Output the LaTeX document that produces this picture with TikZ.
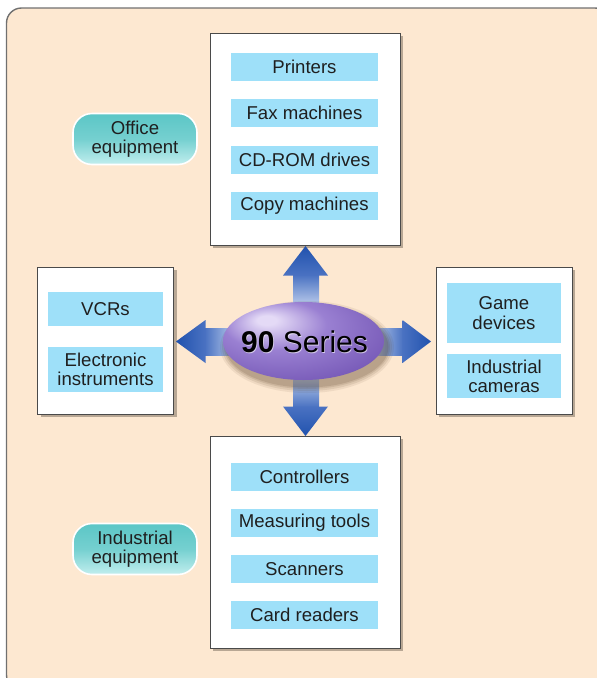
\documentclass[tikz,border=0pt]{standalone}
\usepackage{fontspec}
\setmainfont{Liberation Sans}
\usetikzlibrary{shadows,shapes.geometric}
\definecolor{bgpeach}{HTML}{FDE8D1}
\definecolor{bgedge}{HTML}{707070}
\definecolor{boxedge}{HTML}{4A4A4A}
\definecolor{shadowc}{HTML}{B8A794}
\definecolor{itemblue}{HTML}{9EE0F9}
\definecolor{tealtop}{HTML}{5CC6C6}
\definecolor{tealbot}{HTML}{C2EEEE}
\definecolor{arrdark}{HTML}{2152AE}
\definecolor{arrmid}{HTML}{4A72C2}
\definecolor{arrlight}{HTML}{CDDAF2}
\definecolor{purpD}{HTML}{7052B2}
\definecolor{purpM}{HTML}{9A80D2}
\definecolor{purpL}{HTML}{E4DAF6}
\pgfdeclareradialshading{purpleball}{\pgfpoint{-12bp}{14bp}}{%
  color(0bp)=(purpL); color(3bp)=(purpL); color(16bp)=(purpM); color(38bp)=(purpD); color(60bp)=(purpD)}
\tikzset{
  txt/.style={font=\fontsize{18.6}{19.2}\selectfont, align=center, text=black!88},
  bigbox/.style={draw=boxedge, fill=white, line width=0.9pt, inner sep=0pt,
    drop shadow={shadow xshift=3pt, shadow yshift=-3pt, fill=shadowc, opacity=1}},
  item/.style={txt, fill=itemblue, inner sep=0pt},
  pill/.style={txt, draw=white, line width=1.6pt, rounded corners=19pt, inner sep=0pt,
    top color=tealtop, bottom color=tealbot, middle color=tealtop!75!tealbot,
    minimum width=124pt, minimum height=51pt},
  arrhead/.style={top color=arrdark, bottom color=arrmid},
}
\begin{document}
\begin{tikzpicture}[x=1pt,y=-1pt]
\useasboundingbox (0,0) rectangle (597,678);
\begin{scope}
\clip (0,0) rectangle (597,678);
\draw[fill=bgpeach, draw=bgedge, line width=1.4pt, rounded corners=15pt] (6.5,8) rectangle (610,690);
\end{scope}

% big boxes
\node[bigbox, minimum width=190pt, minimum height=212pt] (top) at (305,139) {};
\node[bigbox, minimum width=190pt, minimum height=212pt] (bot) at (305,542) {};
\node[bigbox, minimum width=136pt, minimum height=147pt] (left) at (105.5,340.5) {};
\node[bigbox, minimum width=136pt, minimum height=147pt] (right) at (504,340.5) {};

% items top
\node[item, minimum width=147pt, minimum height=28pt] (printers) at (304.5,67) {Printers};
\node[item, minimum width=147pt, minimum height=28pt] (fax) at (304.5,113) {Fax machines};
\node[item, minimum width=147pt, minimum height=28pt] (cdrom) at (304.5,160) {CD-ROM drives};
\node[item, minimum width=147pt, minimum height=28pt] (copy) at (304.5,205.5) {Copy machines};
% items bottom
\node[item, minimum width=147pt, minimum height=28pt] (ctrl) at (304.5,476.5) {Controllers};
\node[item, minimum width=147pt, minimum height=28pt] (meas) at (304.5,522.5) {Measuring tools};
\node[item, minimum width=147pt, minimum height=28pt] (scan) at (304.5,569) {Scanners};
\node[item, minimum width=147pt, minimum height=28pt] (card) at (304.5,615) {Card readers};
% items left
\node[item, minimum width=115pt, minimum height=34pt] (vcr) at (105.5,309) {VCRs};
\node[item, minimum width=115pt, minimum height=45pt] (elec) at (105.5,369.5) {Electronic\\instruments};
% items right
\node[item, minimum width=114pt, minimum height=60pt] (game) at (504,313) {Game\\devices};
\node[item, minimum width=114pt, minimum height=44pt] (cam) at (504,376) {Industrial\\cameras};

% pills
\node[pill] (office) at (135,139) {Office\\equipment};
\node[pill] (indeq) at (135,549) {Industrial\\equipment};

% arrows
% up
\shade[top color=arrmid, bottom color=arrlight] (293,275) rectangle (319,310);
\shade[arrhead] (283,275.5) -- (328,275.5) -- (305.5,246) -- cycle;
% down
\shade[top color=arrlight, bottom color=arrmid] (293,372) rectangle (319,407);
\shade[top color=arrmid, bottom color=arrdark] (283,406.5) -- (328,406.5) -- (305.5,436) -- cycle;
% left
\shade[left color=arrmid, right color=arrlight] (205,328.5) rectangle (240,355);
\shade[left color=arrdark, right color=arrmid] (205.5,320) -- (205.5,363) -- (176,341.5) -- cycle;
% right
\shade[left color=arrlight, right color=arrmid] (368,328.5) rectangle (403,355);
\shade[left color=arrmid, right color=arrdark] (402.5,320) -- (402.5,363) -- (431,341.5) -- cycle;

% ellipse shadow
\foreach \k/\o in {7/0.08,5/0.10,3/0.12,1.5/0.14}{
  \fill[black!60!brown, opacity=\o] (307,347) ellipse ({80+\k} and {39+\k});
}
\node[ellipse, shading=purpleball, minimum width=161pt, minimum height=78pt, inner sep=0pt] (series) at (303.5,341) {};
\node[font=\fontsize{30}{30}\selectfont, text=white, opacity=0.6] (labelglow) at (305.3,343) {\textbf{90} Series};
\node[font=\fontsize{30}{30}\selectfont, text=black] (label) at (304.5,342) {\textbf{90} Series};
\end{tikzpicture}
\end{document}
